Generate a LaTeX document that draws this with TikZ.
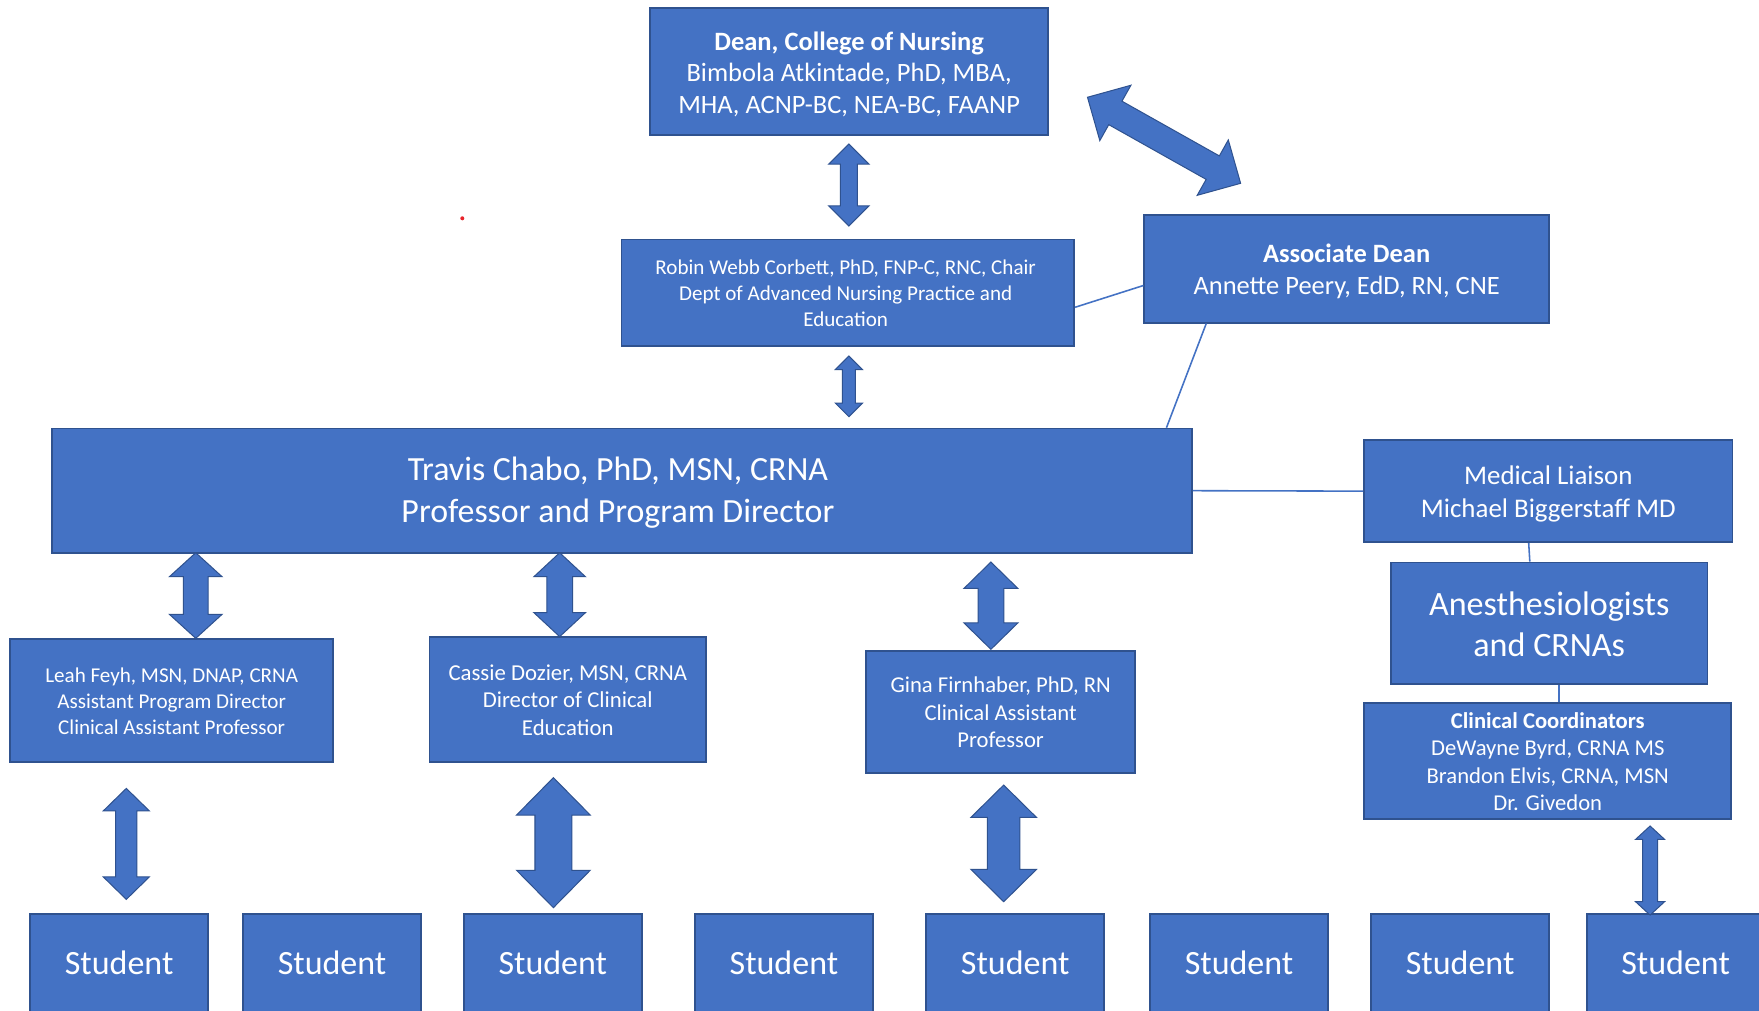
\documentclass[tikz,border=0pt]{standalone}
\usepackage{fontspec}
\setmainfont{Carlito}
\usetikzlibrary{calc}
\definecolor{boxfill}{HTML}{4472C4}
\definecolor{boxline}{HTML}{2F528F}
\definecolor{dotred}{HTML}{E8242B}
\tikzset{
  box/.style={draw=boxline, fill=boxfill, line width=1.6pt, text=white, align=center, inner sep=0pt},
  link/.style={draw=boxfill, line width=1.4pt},
  blockarrow/.style={fill=boxfill, draw=boxline, line width=0.9pt, line join=miter},
}
\newcommand{\fs}[2]{\fontsize{#1}{#2}\selectfont}
\newcommand{\topstrut}{\rule{0pt}{1em}}
\newcommand{\botstrut}{\rule[-0.25em]{0pt}{0.25em}}
% #1 start, #2 end, #3 shaft half width, #4 head half width, #5 head length
\newcommand{\barrow}[5]{%
  \path[blockarrow] (#1)
    -- ($(#1)!#5!(#2)!#4!90:(#2)$) -- ($(#1)!#5!(#2)!#3!90:(#2)$)
    -- ($(#2)!#5!(#1)!#3!-90:(#1)$) -- ($(#2)!#5!(#1)!#4!-90:(#1)$)
    -- (#2)
    -- ($(#2)!#5!(#1)!#4!90:(#1)$) -- ($(#2)!#5!(#1)!#3!90:(#1)$)
    -- ($(#1)!#5!(#2)!#3!-90:(#2)$) -- ($(#1)!#5!(#2)!#4!-90:(#2)$)
    -- cycle;}
\begin{document}
\begin{tikzpicture}[x=1pt,y=-1pt]
\useasboundingbox (0,0) rectangle (1568,900.33);
\clip (0,0) rectangle (1568,900.33);
\fill[white] (0,0) rectangle (1568,900.33);

% boxes
\node[box, minimum width=355pt, minimum height=113pt, font=\fs{23.6}{28}] (dean) at (756.9,63.9)
  {\topstrut\textbf{Dean, College of Nursing}\\Bimbola Atkintade, PhD, MBA,\\MHA, ACNP-BC, NEA-BC, FAANP\botstrut};
\node[box, minimum width=403.5pt, minimum height=95pt, font=\fs{18.8}{23}] (robin) at (755.8,260.9)
  {\topstrut Robin Webb Corbett, PhD, FNP-C, RNC, Chair\kern4pt\\Dept of Advanced Nursing Practice and\kern4pt\\Education\kern4pt\botstrut};
\node[box, minimum width=360.7pt, minimum height=96.2pt, font=\fs{23.6}{28}] (assoc) at (1200.4,239.5)
  {\topstrut\textbf{Associate Dean}\\Annette Peery, EdD, RN, CNE\botstrut};
\node[box, minimum width=1016.6pt, minimum height=110.7pt, font=\fs{30.2}{37}] (travis) at (554.3,437.4)
  {\rule{0pt}{0.9em}Travis Chabo, PhD, MSN, CRNA\kern7pt\\Professor and Program Director\kern7pt\botstrut};
\node[box, minimum width=328.4pt, minimum height=91.2pt, font=\fs{24}{29}] (medical) at (1380.2,437.8)
  {\topstrut Medical Liaison\\Michael Biggerstaff MD\botstrut};
\node[box, minimum width=282.1pt, minimum height=108.7pt, font=\fs{30.4}{37}] (anesth) at (1381,555.7)
  {\topstrut Anesthesiologists\\and CRNAs\botstrut};
\node[box, minimum width=327.1pt, minimum height=103.6pt, font=\fs{20.2}{24.4}] (clinical) at (1379.7,678.2)
  {\topstrut\textbf{Clinical Coordinators}\\DeWayne Byrd, CRNA MS\\Brandon Elvis, CRNA, MSN\\Dr. Givedon\botstrut};
\node[box, minimum width=287.6pt, minimum height=109.1pt, font=\fs{18.8}{23}] (leah) at (153,624.5)
  {\topstrut Leah Feyh, MSN, DNAP, CRNA\\Assistant Program Director\\Clinical Assistant Professor\botstrut};
\node[box, minimum width=246.6pt, minimum height=111.5pt, font=\fs{20.3}{24.5}] (cassie) at (506.1,623.3)
  {\topstrut Cassie Dozier, MSN, CRNA\\Director of Clinical\\Education\botstrut};
\node[box, minimum width=239.7pt, minimum height=108.8pt, font=\fs{20.2}{24.5}] (gina) at (892,634.4)
  {\topstrut Gina Firnhaber, PhD, RN\\Clinical Assistant\\Professor\botstrut};

% students
\foreach \n/\cx in {1/106.2, 2/296, 3/492.8, 4/698.8, 5/905, 6/1104.5, 7/1301.6, 8/1493.7}
  \node[box, minimum width=158.5pt, minimum height=88pt, font=\fs{30.3}{37}] (s\n) at (\cx,858.4) {Student};

% connector lines
\draw[link] ($(robin.east)+(0,13)$) -- ($(assoc.west)+(0,15)$);
\draw[link] ($(assoc.south west)+(56,0)$) -- ($(travis.north east)+(-23.6,0)$);
\draw[link] (travis.east) -- (medical.west);
\draw[link] ($(medical.south)+(-17.5,0)$) -- ($(anesth.north)+(-17.3,0)$);
\draw[link] ($(anesth.south)+(8.5,0)$) -- ($(clinical.north)+(9.8,0)$);

% block arrow end points
\coordinate (a1s) at (756.7,128.4);  \coordinate (a1e) at (756.7,201.5);
\coordinate (a2s) at (756.7,317.4);  \coordinate (a2e) at (756.7,371.4);
\coordinate (a3s) at (174.5,492.7);  \coordinate (a3e) at (174.5,569);
\coordinate (a4s) at (498.9,492.7);  \coordinate (a4e) at (498.9,567.5);
\coordinate (a5s) at (883.3,501);    \coordinate (a5e) at (883.3,578.8);
\coordinate (a6s) at (112.6,702.8);  \coordinate (a6e) at (112.6,801.7);
\coordinate (a7s) at (493.3,693.2);  \coordinate (a7e) at (493.3,809.1);
\coordinate (a8s) at (894.7,699.8);  \coordinate (a8e) at (894.7,803.8);
\coordinate (a9s) at (1470.9,736.3); \coordinate (a9e) at (1470.9,815.7);
\coordinate (d1s) at (969.4,86.7);   \coordinate (d1e) at (1105.9,163.4);

\barrow{a1s}{a1e}{7.5pt}{18pt}{18pt}
\barrow{a2s}{a2e}{5.75pt}{12pt}{12pt}
\barrow{a3s}{a3e}{11pt}{23.5pt}{21.4pt}
\barrow{a4s}{a4e}{11.5pt}{23pt}{21.4pt}
\barrow{a5s}{a5e}{11.5pt}{24pt}{23.5pt}
\barrow{a6s}{a6e}{9.5pt}{20.5pt}{20pt}
\barrow{a7s}{a7e}{16.4pt}{32.8pt}{33.3pt}
\barrow{a8s}{a8e}{14.5pt}{29.2pt}{28.8pt}
\barrow{a9s}{a9e}{6.7pt}{13pt}{12pt}
\barrow{d1s}{d1e}{12pt}{28.3pt}{28.5pt}

% stray red dot
\fill[dotred] (412.1,194.6) circle (1.8pt);
\end{tikzpicture}
\end{document}
